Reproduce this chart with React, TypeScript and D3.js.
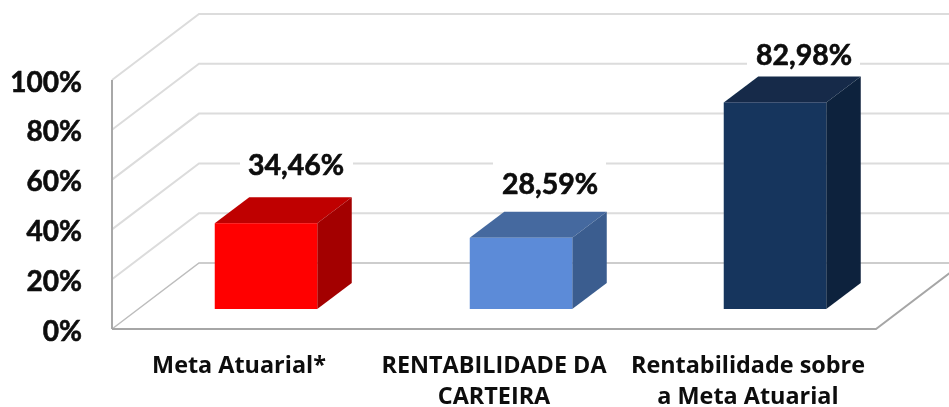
import React from "react";
import * as d3 from "d3";

const categories = ["Meta Atuarial*", "RENTABILIDADE DA CARTEIRA", "Rentabilidade sobre a Meta Atuarial"];
const categoryLines = [["Meta Atuarial*"], ["RENTABILIDADE DA", "CARTEIRA"], ["Rentabilidade sobre", "a Meta Atuarial"]];
const values = [34.46, 28.59, 82.98];
const valueLabels = ["34,46%", "28,59%", "82,98%"];
const frontColors = ["#ff0000", "#5b8bd8", "#17365d"];
const topColors = ["#bf0000", "#44699f", "#122a49"];
const sideColors = ["#a30000", "#3a5d8f", "#10233d"];
const ticks = [0, 20, 40, 60, 80, 100];

const W = 949, H = 407;
const FONT = "Lato, Carlito, Calibri, 'Open Sans', sans-serif";
const axisY = d3.scaleLinear().domain([0, 100]).range([329, 80]);
const wallDx = 87, wallDy = -66;
const barDx = 34.5, barDy = -26, barLift = -20;
const barCenters = [266, 521, 775];
const barW = 102.5;
const barBase = axisY(0) + barLift;
const pts = (a: number[][]) => a.map((p) => p.join(",")).join(" ");

export default function App() {
  const labelPos = [
    { x: 296, y: 175, bx: 240, bw: 113, by: 150, bh: 36 },
    { x: 550, y: 194, bx: 493, bw: 113, by: 160, bh: 46 },
    { x: 804, y: 65, bx: 747, bw: 113, by: 38, bh: 40 },
  ];
  return (
    <svg width={W} height={H} style={{ position: "absolute", left: 0, top: 0, background: "#fff" }} fontFamily={FONT} fontWeight={700} fill="#0b0b0b">
      <defs>
        <filter id="soft" x="-5%" y="-5%" width="110%" height="110%"><feGaussianBlur stdDeviation="0.45" /></filter>
      </defs>
      <g filter="url(#soft)">
        {ticks.map((t) => {
          const y = axisY(t);
          const grey = t === 0 ? "#bdbdbd" : "#dcdcdc";
          return (
            <g key={t} fill="none" stroke={grey} strokeWidth={t === 0 ? 1.5 : 2}>
              <polyline points={pts([[112, y], [112 + wallDx, y + wallDy], [W + 20, y + wallDy]])} />
            </g>
          );
        })}
        <line x1={112} x2={112} y1={axisY(100)} y2={axisY(0)} stroke="#a8a8a8" strokeWidth={2} />
        <polyline points={pts([[112, axisY(0)], [876, axisY(0)], [876 + wallDx, axisY(0) + wallDy]])} fill="none" stroke="#a6a6a6" strokeWidth={2} />
        {labelPos.map((l, i) => (
          <rect key={i} x={l.bx} y={l.by} width={l.bw} height={l.bh} fill="#fff" />
        ))}
        {categories.map((c, i) => {
          const x0 = barCenters[i] - barW / 2;
          const x1 = x0 + barW;
          const yt = barBase - (axisY(0) - axisY(values[i]));
          return (
            <g key={c}>
              <polygon points={pts([[x0, yt], [x0 + barDx, yt + barDy], [x1 + barDx, yt + barDy], [x1, yt]])} fill={topColors[i]} />
              <polygon points={pts([[x1, yt], [x1 + barDx, yt + barDy], [x1 + barDx, barBase + barDy], [x1, barBase]])} fill={sideColors[i]} />
              <rect x={x0} y={yt} width={barW} height={barBase - yt} fill={frontColors[i]} />
            </g>
          );
        })}
        <g stroke="#0b0b0b" strokeWidth={0.6}>
          {ticks.map((t) => (
            <text key={t} x={82} y={axisY(t) + 11.5} textAnchor="end" fontSize={28}>{t}%</text>
          ))}
          {labelPos.map((l, i) => (
            <text key={i} x={l.x} y={l.y} textAnchor="middle" fontSize={28.5}>{valueLabels[i]}</text>
          ))}
        </g>
        {categoryLines.map((lines, i) => (
          <text key={i} textAnchor="middle" fontSize={23.4} fontFamily="'Open Sans', sans-serif">
            {lines.map((s, j) => (
              <tspan key={j} x={[239, 494, 748][i]} y={373 + j * 31}>{s}</tspan>
            ))}
          </text>
        ))}
      </g>
    </svg>
  );
}
